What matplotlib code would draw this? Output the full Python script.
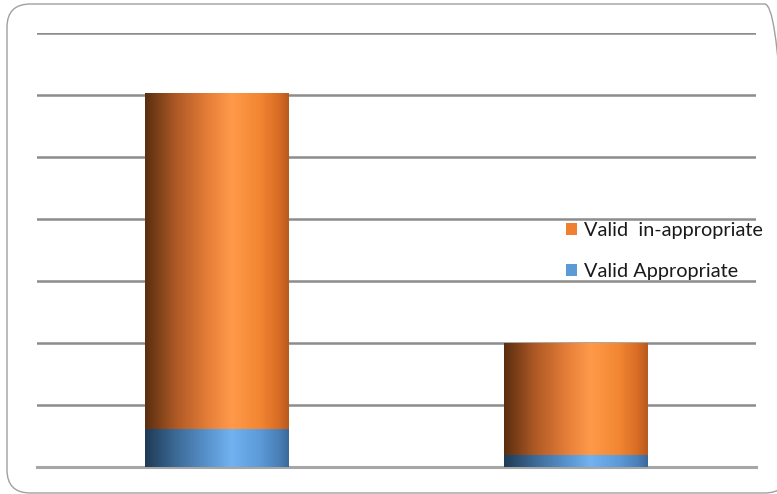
import numpy as np
import matplotlib
matplotlib.use("Agg")
import matplotlib.pyplot as plt
from matplotlib.colors import LinearSegmentedColormap
from matplotlib.patches import FancyBboxPatch, Patch

categories = ["A", "B"]
valid_appropriate = [0.61, 0.20]
valid_inappropriate = [5.42, 1.80]
series_labels = ["Valid Appropriate", "Valid  in-appropriate"]

fig = plt.figure(figsize=(7.77, 4.94), dpi=100)
W, H = 777, 494

# rounded outer frame
frame = FancyBboxPatch((7 / W, 1 - 493 / H), (788 - 7) / W, (493 - 4) / H,
                       boxstyle="round,pad=0,rounding_size=0.03",
                       transform=fig.transFigure, facecolor="none",
                       edgecolor="#a0a0a0", linewidth=1.0, zorder=-1,
                       mutation_aspect=W / H)
fig.patches.append(frame)

ax = fig.add_axes([37 / W, 1 - 467 / H, (756 - 37) / W, (467 - 33) / H])
ax.set_facecolor("none")

x = np.arange(len(categories))
width = 0.4

b1 = ax.bar(x, valid_appropriate, width, color="#5b9bd5", zorder=3)
b2 = ax.bar(x, valid_inappropriate, width, bottom=valid_appropriate,
            color="#f07f2f", zorder=3)

orange_cmap = LinearSegmentedColormap.from_list("og", [
    (0.0, "#5a2e10"), (0.22, "#b05a26"), (0.45, "#e8803a"),
    (0.6, "#ff9a4a"), (0.8, "#f28632"), (0.93, "#d86c25"), (1.0, "#b85a1e")])
blue_cmap = LinearSegmentedColormap.from_list("bl", [
    (0.0, "#1e3a55"), (0.22, "#3d6b98"), (0.45, "#5a96d0"),
    (0.6, "#72b2f0"), (0.8, "#5c9ad8"), (0.93, "#4a80b8"), (1.0, "#3a6a9a")])

grad = np.linspace(0, 1, 256).reshape(1, -1)
for bars, cmap in ((b1, blue_cmap), (b2, orange_cmap)):
    for r in bars:
        x0, y0 = r.get_x(), r.get_y()
        w, h = r.get_width(), r.get_height()
        im = ax.imshow(grad, cmap=cmap, extent=[x0, x0 + w, y0, y0 + h],
                       aspect="auto", zorder=4, interpolation="bicubic")
        im.set_clip_path(r)

ax.set_xlim(-0.502, 1.503)
ax.set_ylim(0, 7)
ax.set_yticks(np.arange(0, 8, 1))
ax.yaxis.grid(True, color="#8c8c8c", linewidth=1.8, zorder=1)
ax.set_axisbelow(True)
ax.tick_params(left=False, bottom=False, labelleft=False, labelbottom=False)
for s in ax.spines.values():
    s.set_visible(False)
ax.axhline(0, color="#a6a6a6", linewidth=2.2, zorder=2, clip_on=False)

handles = [Patch(facecolor="#f07f2f", label=series_labels[1]),
           Patch(facecolor="#5b9bd5", label=series_labels[0])]
fig.legend(handles=handles, loc="upper left",
           bbox_to_anchor=(566 / W, 1 - 222 / H), frameon=False,
           handlelength=0.55, handleheight=0.55, handletextpad=0.35,
           labelspacing=1.2, borderaxespad=0, borderpad=0,
           labelcolor="#1a1a1a",
           prop={"family": "Lato", "size": 14.3})

fig.savefig("out.png", dpi=100)
